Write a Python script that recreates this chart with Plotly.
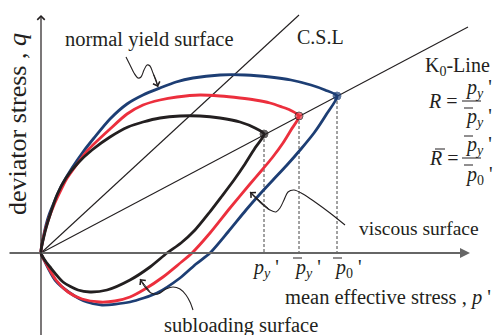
import plotly.graph_objects as go

# ---------------- data (chart units: p' to the right, q upward; origin at axes crossing) ----------------
# normal yield surface (blue)
blue_upper_p = [0, 2, 5, 8, 12, 17, 22, 31, 42, 53, 69, 86, 102, 119, 135, 152, 179, 204, 229, 250, 270, 284, 296]
blue_upper_q = [0, 14, 28, 38, 48, 60, 70, 85, 101, 115, 134, 149, 158, 165, 171, 175, 178, 178, 176, 173, 168, 163, 157]
blue_lower_p = [296, 285, 273, 260, 246, 232, 219, 205, 187, 169, 155, 139, 116, 89, 61, 46, 29, 14, 4, 0]
blue_lower_q = [157, 138, 120, 104, 88, 73, 59, 43, 21, 0, -11, -25, -40, -49, -52, -49, -40, -27, -9, 0]
# viscous surface (red)
red_upper_p = [0, 3, 8, 13, 19, 25, 34, 47, 69, 86, 102, 119, 136, 159, 179, 199, 214, 229, 241, 249, 258]
red_upper_q = [0, 18, 35, 48, 61, 73, 86, 103, 124, 139, 148, 153, 156, 158, 157, 155, 153, 150, 146, 143, 137]
red_lower_p = [258, 250, 242, 231, 221, 209, 189, 169, 151, 138, 122, 104, 89, 74, 59, 41, 27, 15, 6, 0]
red_lower_q = [137, 123, 110, 95, 83, 69, 45, 20, 0, -11, -24, -36, -44, -48, -49, -46, -39, -27, -12, 0]
# subloading surface (black)
blk_upper_p = [0, 4, 9, 16, 25, 37, 51, 69, 87, 102, 119, 139, 159, 179, 199, 214, 223]
blk_upper_q = [0, 21, 38, 58, 75, 90, 103, 116, 126, 131, 135, 137, 137, 135, 131, 125, 119]
blk_lower_p = [223, 214, 204, 193, 181, 168, 154, 140, 126, 109, 89, 66, 49, 37, 22, 9, 3, 0]
blk_lower_q = [119, 105, 89, 73, 57, 40, 23, 10, 0, -14, -27, -37, -39, -37, -29, -14, -6, 0]

# stress points on the K0-line: p_y', p_y'(bar), p_0'(bar)
point_p = [223, 258, 296]
point_q = [119, 137, 157]
point_labels = ["<i>p<sub>y</sub></i> '", "<i>p<sub>y</sub></i> '", "<i>p</i><sub>0</sub> '"]
point_bar = [False, True, True]

# reference lines from origin
csl_p = [0, 258]
csl_q = [0, 238]
k0_p = [0, 427]
k0_q = [0, 226]

# leader (squiggle) lines for the labels
nys_arrow_p = [85, 89, 93, 97, 100, 103, 106, 109, 112, 115, 117]
nys_arrow_q = [196, 188, 180, 175, 176, 183, 188, 187, 180, 173, 166]
vis_arrow_p = [304, 289, 274, 262, 253, 247, 243, 239, 235, 229, 221, 209]
vis_arrow_q = [28, 40, 51, 59, 63, 61, 53, 45, 41, 43, 49, 61]
sub_arrow_p = [152, 149, 145, 139, 132, 125, 117, 110, 104, 99]
sub_arrow_q = [-57, -49, -42, -36, -34, -36, -41, -40, -34, -26]

BLUE = "#1d3e74"
RED = "#ec2f3d"
BLK = "#231f20"
SERIF = "Liberation Serif"

fig = go.Figure()

def curve(px, py, color, w=2.8, dash=None, shape="spline", sm=0.7):
    fig.add_trace(go.Scatter(x=px, y=py, mode="lines",
                             line=dict(color=color, width=w, shape=shape, smoothing=sm, dash=dash),
                             hoverinfo="skip", showlegend=False))

# thin reference lines
curve(csl_p, csl_q, BLK, 1.1, shape="linear")
curve(k0_p, k0_q, BLK, 1.1, shape="linear")

# dashed drop lines
for p, q in zip(point_p, point_q):
    curve([p, p], [q, 0], "#444444", 1.0, dash="3px,2px", shape="linear")

# surfaces: lower branch from stress point back to origin, then upper branch to point
for up_p, up_q, lo_p, lo_q, col in [
    (blue_upper_p, blue_upper_q, blue_lower_p, blue_lower_q, BLUE),
    (red_upper_p, red_upper_q, red_lower_p, red_lower_q, RED),
    (blk_upper_p, blk_upper_q, blk_lower_p, blk_lower_q, BLK),
]:
    curve(lo_p + up_p[1:], lo_q + up_q[1:], col, 2.8)

# leader lines
for ap, aq in [(nys_arrow_p, nys_arrow_q), (vis_arrow_p, vis_arrow_q), (sub_arrow_p, sub_arrow_q)]:
    curve(ap, aq, BLK, 1.1, sm=0.9)
    fig.add_annotation(x=ap[-1], y=aq[-1], ax=ap[-3], ay=aq[-3], xref="x", yref="y",
                       axref="x", ayref="y", text="", showarrow=True, arrowhead=4,
                       arrowsize=1.4, arrowwidth=1.0, arrowcolor=BLK, standoff=0)

# stress points
fig.add_trace(go.Scatter(x=point_p, y=point_q, mode="markers",
                         marker=dict(size=[8, 8, 8], color=[BLK, RED, BLUE],
                                     line=dict(color=[BLK, BLK, BLUE], width=1)),
                         hoverinfo="skip", showlegend=False))

# axes with arrows
fig.add_annotation(x=429, y=0, ax=-33, ay=0, xref="x", yref="y", axref="x", ayref="y",
                   text="", showarrow=True, arrowhead=2, arrowsize=1.0, arrowwidth=2.0,
                   arrowcolor="#666666", standoff=0)
fig.add_annotation(x=0, y=238, ax=0, ay=-85, xref="x", yref="y", axref="x", ayref="y",
                   text="", showarrow=True, arrowhead=4, arrowsize=1.2, arrowwidth=1.2,
                   arrowcolor=BLK, standoff=0)

def text(x, y, s, size=20, xanchor="center", yanchor="middle", angle=0):
    fig.add_annotation(x=x, y=y, xref="x", yref="y", text=s, showarrow=False,
                       font=dict(family=SERIF, size=size, color=BLK),
                       xanchor=xanchor, yanchor=yanchor, textangle=angle)

def bar(x0, x1, y, w=1.0):
    fig.add_shape(type="line", x0=x0, x1=x1, y0=y, y1=y, xref="x", yref="y",
                  line=dict(color=BLK, width=w))

text(108, 214, "normal yield surface", 20.5)
text(279, 216, "C.S.L", 20)
text(416, 187, "K<sub>0</sub>-Line", 20)
text(440, 25, "viscous surface", 19.5, xanchor="right")
text(452, -44, "mean effective stress , <i>p</i> '", 20.5, xanchor="right")
text(200, -72, "subloading surface", 20.5)
text(-24, 129, "deviator stress , <i>q</i>", 26, angle=-90)

# labels below the p'-axis (left edge offsets relative to each drop line)
label_dx = [-14, -7, -5]
for p, lab, b, dx in zip(point_p, point_labels, point_bar, label_dx):
    text(p + dx, -15, lab, 20, xanchor="left")
    if b:
        bar(p + dx + 1, p + dx + 10, -5)

# formulas
FX = 422   # left edge of fraction text
text(419, 152, "<i>R</i> =", 20, xanchor="right")
bar(421, 440, 152)
text(FX, 165, "<i>p<sub>y</sub></i> '", 20, xanchor="left")
text(FX, 136, "<i>p<sub>y</sub></i> '", 20, xanchor="left")
bar(FX + 1, FX + 10, 145)

text(420, 95, "<i>R</i> =", 20, xanchor="right")
bar(394, 404, 104)
bar(421, 440, 95)
text(FX, 108, "<i>p<sub>y</sub></i> '", 20, xanchor="left")
bar(FX + 1, FX + 10, 117)
text(FX, 78, "<i>p</i><sub>0</sub> '", 20, xanchor="left")
bar(FX + 1, FX + 10, 88)

fig.update_layout(
    width=493, height=335, autosize=False,
    margin=dict(l=0, r=0, t=0, b=0),
    paper_bgcolor="white", plot_bgcolor="white",
    xaxis=dict(range=[-41, 452], visible=False, fixedrange=True),
    yaxis=dict(range=[-82, 253], visible=False, fixedrange=True),
    showlegend=False,
)

fig.write_html("out.html", config={"displayModeBar": False},
               post_script="document.body.style.margin='0';document.body.style.padding='0';")
